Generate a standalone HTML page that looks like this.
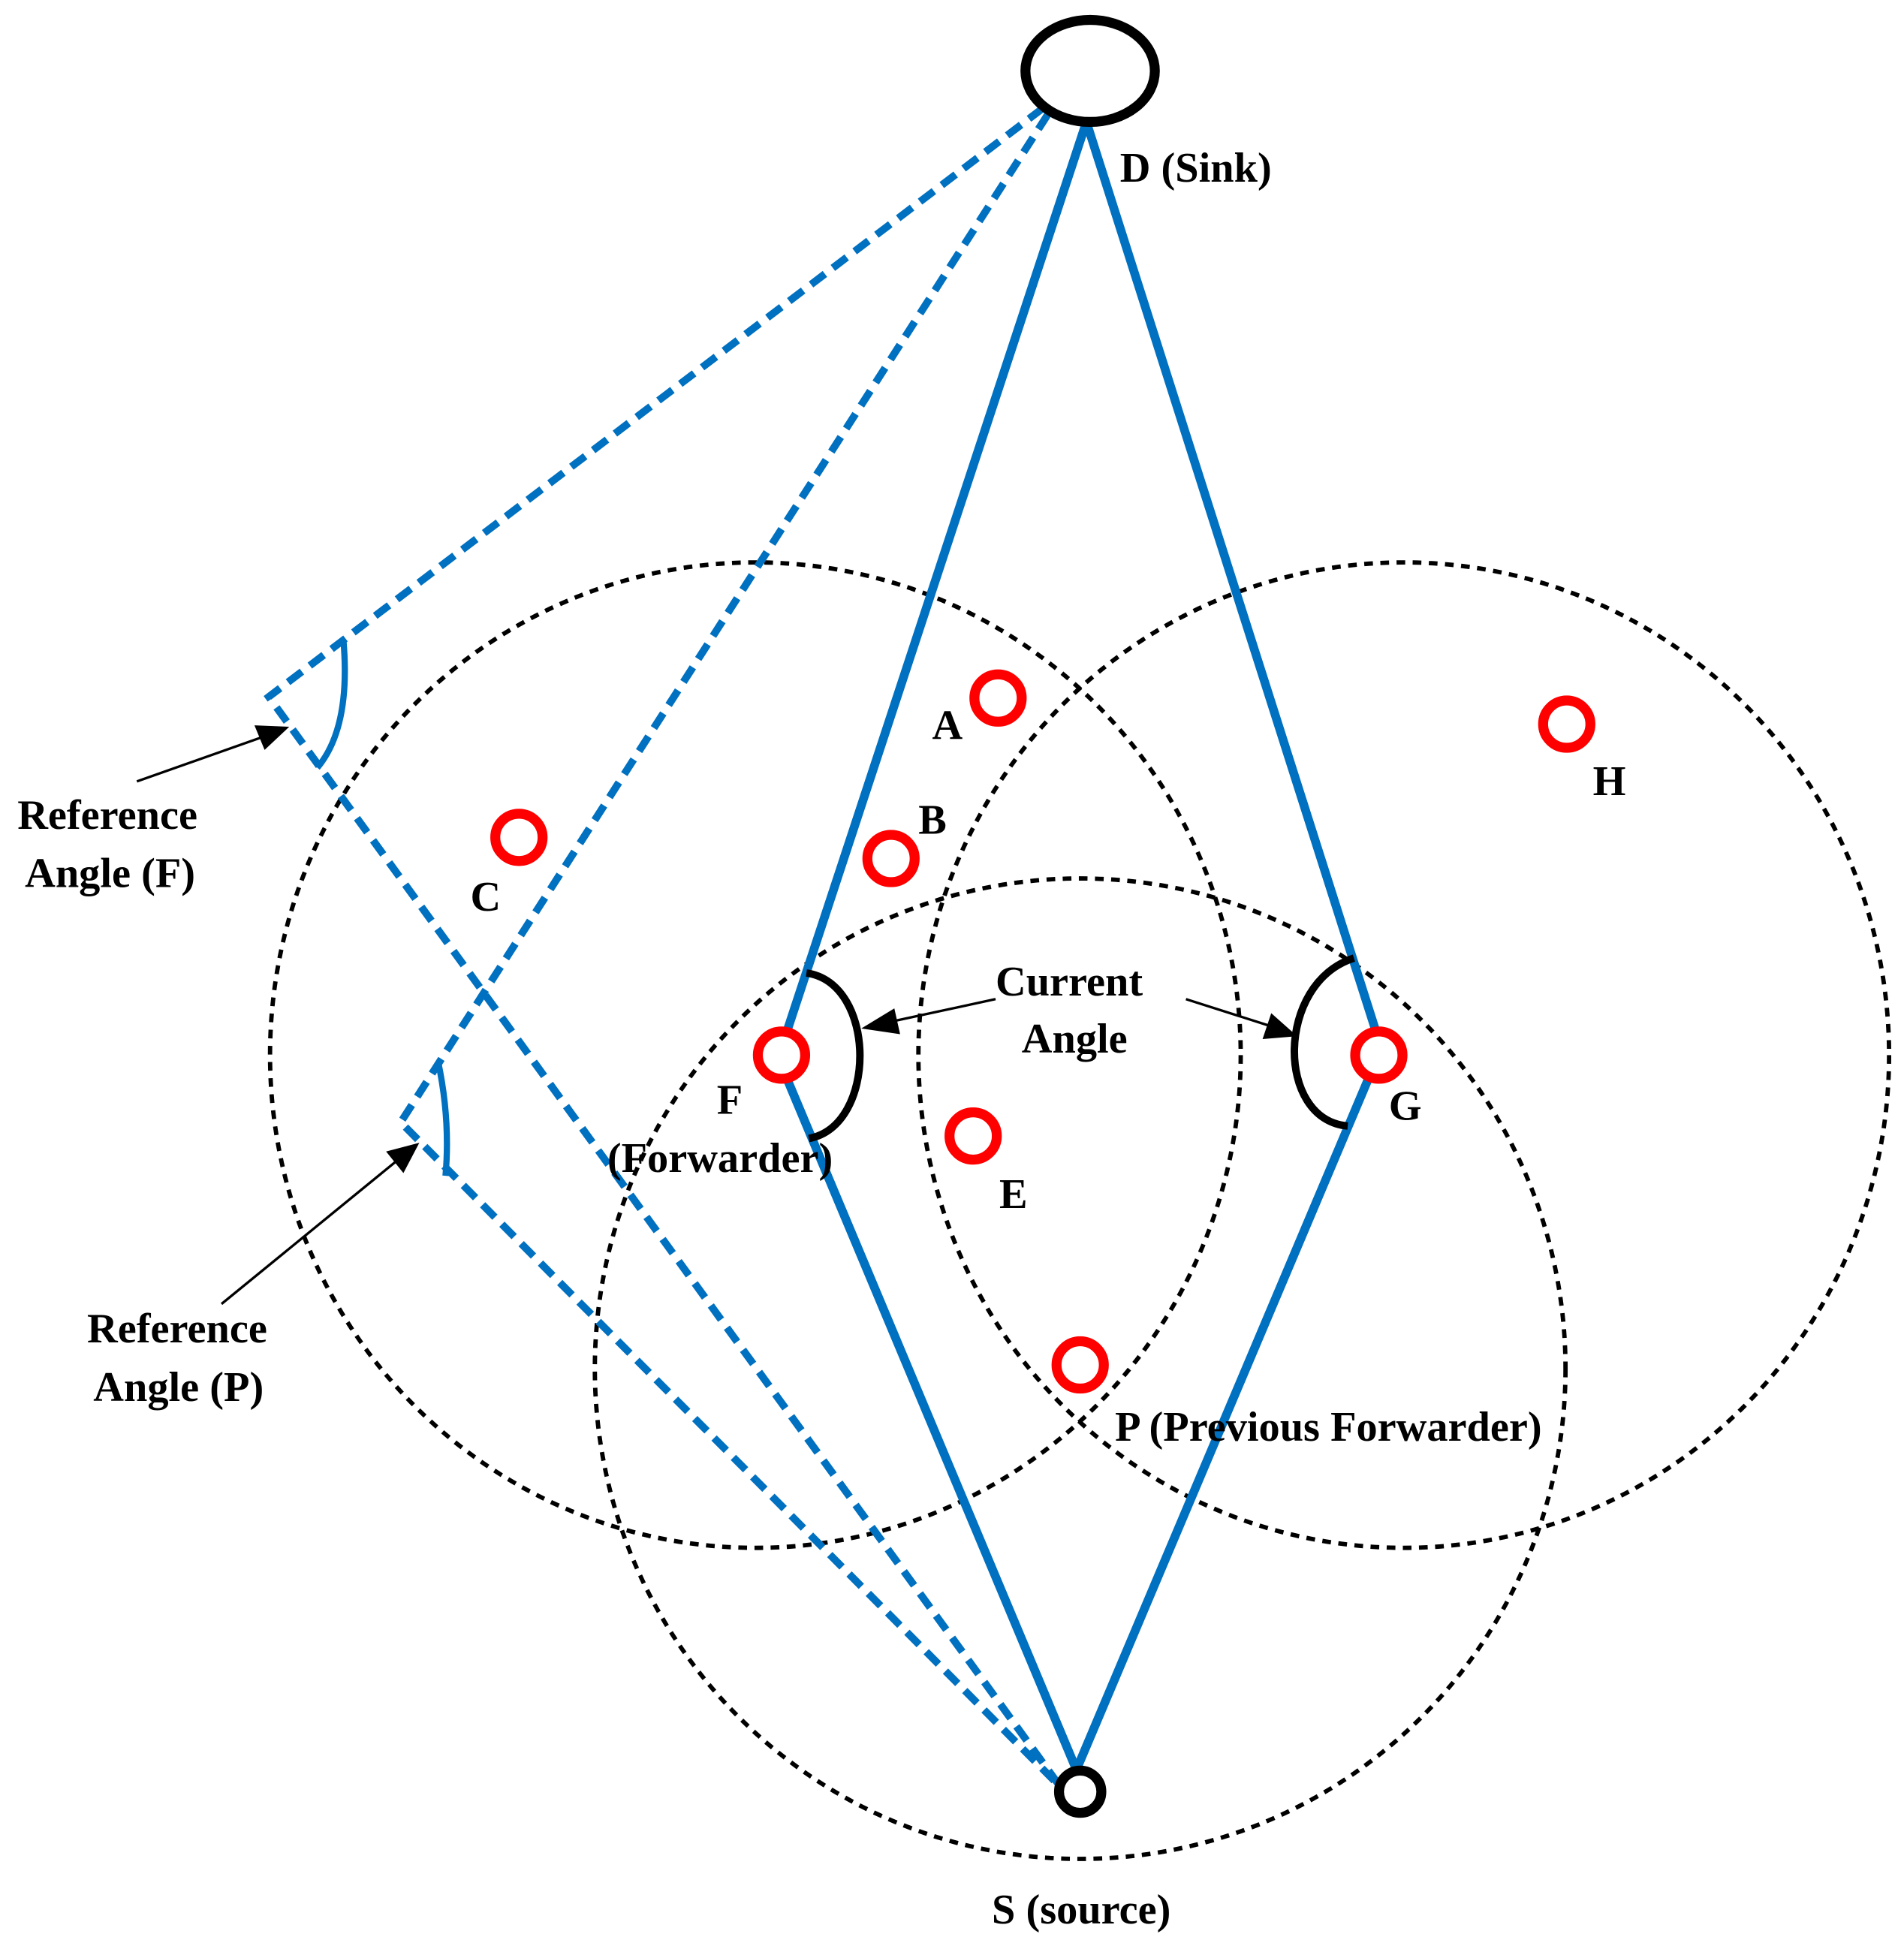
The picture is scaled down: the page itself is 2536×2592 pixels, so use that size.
<!DOCTYPE html>
<html><head><meta charset="utf-8"><style>
html,body{margin:0;padding:0;background:#fff;}
svg{display:block;}
text{font-family:"Liberation Serif",serif;font-weight:bold;font-size:34px;fill:#000;}
</style></head><body>
<svg width="2536" height="2592" viewBox="0 0 1530 1564" preserveAspectRatio="none" xmlns="http://www.w3.org/2000/svg">
<defs>
<marker id="ar" markerWidth="10" markerHeight="10" refX="9" refY="5" orient="auto" markerUnits="userSpaceOnUse" viewBox="0 0 10 10">
</marker>
</defs>
<!-- dashed range circles -->
<g fill="none" stroke="#000" stroke-width="3.5" stroke-dasharray="7,6">
<ellipse cx="607" cy="848" rx="390" ry="396"/>
<ellipse cx="1128" cy="848" rx="390" ry="396"/>
<ellipse cx="868" cy="1100" rx="390" ry="394"/>
</g>
<!-- blue dashed reference lines -->
<g fill="none" stroke="#0070c0" stroke-width="6" stroke-dasharray="14,8">
<path d="M838,87 L216,560 L852,1436"/>
<path d="M842,92 L322,902 L852,1436"/>
</g>
<!-- reference angle arcs -->
<g fill="none" stroke="#0070c0" stroke-width="5">
<path d="M276,515 Q282,585 255,617"/>
<path d="M352,853 Q362,900 358,945"/>
</g>
<!-- blue solid lines -->
<g fill="none" stroke="#0070c0" stroke-width="7" stroke-linecap="round">
<path d="M873,98 L632,830"/>
<path d="M632,866 L864,1420"/>
<path d="M873,98 L1106,830"/>
<path d="M1100,866 L866,1420"/>
</g>
<!-- current angle arcs -->
<g fill="none" stroke="#000" stroke-width="6">
<path d="M648,782 C705,790 705,905 650,915"/>
<path d="M1088,770 C1025,790 1025,900 1083,905"/>
</g>
<!-- arrows -->
<g stroke="#000" stroke-width="2" fill="#000">
<line x1="800" y1="803" x2="712" y2="822"/>
<polygon points="695,826 718,812 722,830"/>
<line x1="953" y1="803" x2="1022" y2="825"/>
<polygon points="1040,832 1016,834 1022,816"/>
<line x1="110" y1="628" x2="212" y2="592"/>
<polygon points="230,585 213,601 206,584"/>
<line x1="178" y1="1048" x2="320" y2="932"/>
<polygon points="335,920 324,941 312,926"/>
</g>
<!-- D and S -->
<ellipse cx="876" cy="57" rx="52" ry="41" fill="#fff" stroke="#000" stroke-width="8"/>
<circle cx="868" cy="1440" r="17" fill="#fff" stroke="#000" stroke-width="8"/>
<!-- red nodes -->
<g fill="#fff" stroke="#ff0000" stroke-width="8">
<circle cx="802" cy="561" r="19"/>
<circle cx="716" cy="690" r="19"/>
<circle cx="417" cy="673" r="19"/>
<circle cx="628" cy="848" r="19"/>
<circle cx="1108" cy="848" r="19"/>
<circle cx="782" cy="913" r="19"/>
<circle cx="868" cy="1097" r="19"/>
<circle cx="1259" cy="582" r="19"/>
</g>
<!-- labels -->
<text x="900" y="146">D (Sink)</text>
<text x="749" y="594">A</text>
<text x="738" y="670">B</text>
<text x="378" y="732">C</text>
<text x="1280" y="639">H</text>
<text x="576" y="895">F</text>
<text x="488" y="942">(Forwarder)</text>
<text x="1116" y="900">G</text>
<text x="803" y="971">E</text>
<text x="800" y="800">Current</text>
<text x="821" y="846">Angle</text>
<text x="896" y="1158">P (Previous Forwarder)</text>
<text x="797" y="1546">S (source)</text>
<text x="14" y="666">Reference</text>
<text x="20" y="713">Angle (F)</text>
<text x="70" y="1079">Reference</text>
<text x="75" y="1126">Angle (P)</text>
</svg>
</body></html>
